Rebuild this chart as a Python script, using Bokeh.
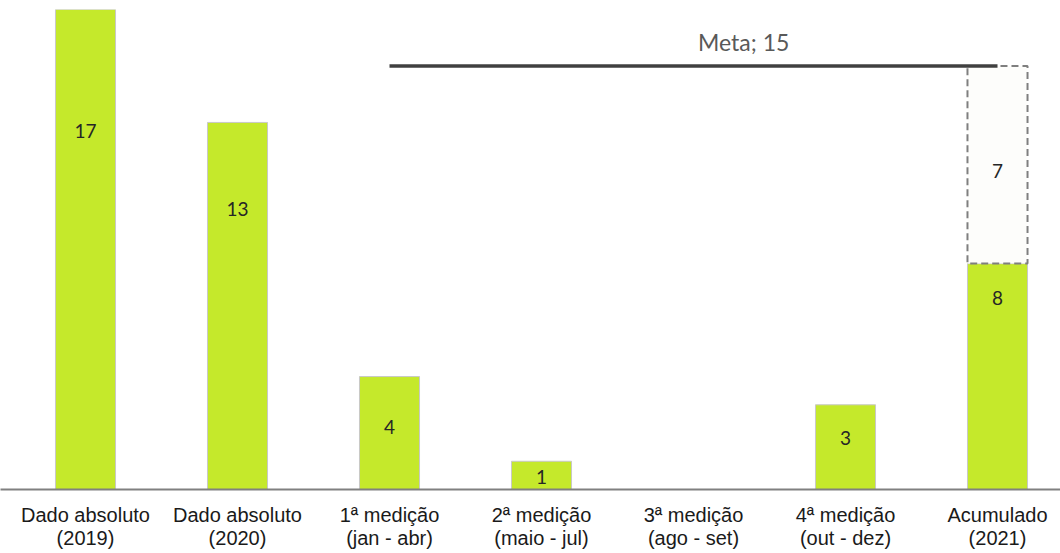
from bokeh.plotting import figure
from bokeh.models import ColumnDataSource, FixedTicker, Range1d
from bokeh.core.properties import value
from bokeh.embed import file_html
from bokeh.resources import INLINE

categories = ["Dado absoluto\n(2019)", "Dado absoluto\n(2020)", "1ª medição\n(jan - abr)",
              "2ª medição\n(maio - jul)", "3ª medição\n(ago - set)", "4ª medição\n(out - dez)",
              "Acumulado\n(2021)"]
values = [17, 13, 4, 1, 0, 3, 8]
value_labels = ["17", "13", "4", "1", "", "3", "8"]
label_y = [12.7, 9.93, 2.23, 0.46, 0, 1.84, 6.78]
meta = 15
missing = meta - values[-1]  # 7
meta_start_idx = 2
meta_end_idx = 6

xs = list(range(len(categories)))

W, H = 1060, 553
x0 = -85 / 152
p = figure(width=W, height=H, output_backend="svg", toolbar_location=None,
           x_range=Range1d(x0, x0 + W / 152), y_range=Range1d(0, 17),
           min_border_left=0, min_border_right=0, min_border_top=9, min_border_bottom=64)
p.outline_line_color = None
p.xgrid.visible = False
p.ygrid.visible = False
p.yaxis.visible = False

src = ColumnDataSource(dict(x=[x for x, v in zip(xs, values) if v > 0],
                            top=[v for v in values if v > 0]))
p.vbar(x="x", top="top", bottom=0, width=0.395, source=src,
       fill_color="#c5e92b", line_color="#c8c8c8", line_width=1)

# remaining to goal (dashed box)
p.vbar(x=[xs[-1]], bottom=[values[-1]], top=[values[-1] + missing], width=0.395,
       fill_color="#fdfdfb", line_color="#7f7f7f", line_width=2, line_dash="7 4")

# meta line
p.line(x=[xs[meta_start_idx], xs[meta_end_idx]], y=[meta, meta], line_color="#404040", line_width=3.5)

# labels in bars
lsrc = ColumnDataSource(dict(x=xs, y=label_y, t=value_labels))
p.text(x="x", y="y", text="t", source=lsrc, text_align="center", text_baseline="middle",
       text_font=value("Lato"), text_font_size="19px", text_color="#262626")
p.text(x=[xs[-1]], y=[11.27], text=[str(missing)], text_align="center", text_baseline="middle",
       text_font=value("Lato"), text_font_size="19px", text_color="#262626")
p.text(x=[4.33], y=[15.85], text=["Meta; %d" % meta], text_align="center", text_baseline="middle",
       text_font=value("Lato"), text_font_size="23px", text_color="#595959")

ax = p.xaxis[0]
ax.ticker = FixedTicker(ticks=xs)
ax.major_label_overrides = {i: c for i, c in enumerate(categories)}
ax.major_tick_line_color = None
ax.minor_tick_line_color = None
ax.major_tick_out = 0
ax.major_tick_in = 0
ax.minor_tick_out = 0
ax.axis_line_color = "#808080"
ax.axis_line_width = 2
ax.major_label_standoff = 14
ax.major_label_text_font = "Liberation Sans"
ax.major_label_text_font_size = "20px"
ax.major_label_text_line_height = 1.08
ax.major_label_text_color = "#1a1a1a"

open("out.html", "w").write(file_html(p, INLINE))
